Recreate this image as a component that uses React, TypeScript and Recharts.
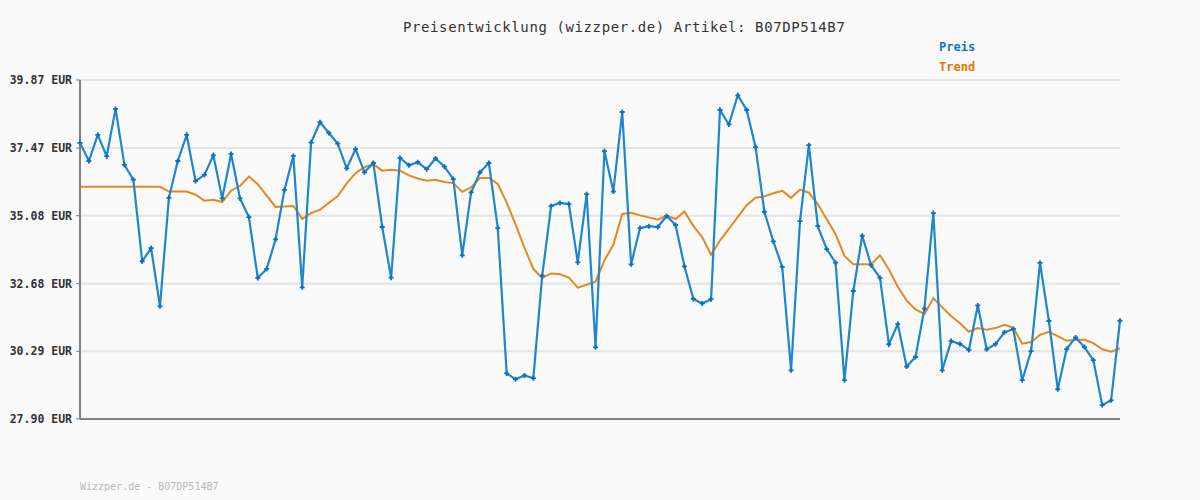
import { CartesianGrid, Line, LineChart, XAxis, YAxis } from "recharts";

const TITLE = "Preisentwicklung (wizzper.de) Artikel: B07DP514B7";
const FOOTER = "Wizzper.de - B07DP514B7";

const Y_TICKS = [27.9, 30.29, 32.68, 35.08, 37.47, 39.87];

// Preis pro Messpunkt (EUR)
const preis = [
  37.65, 37.01, 37.93, 37.18, 38.85, 36.87, 36.35, 33.47, 33.93, 31.88,
  35.71, 37.01, 37.93, 36.3, 36.52, 37.21, 35.69, 37.26, 35.69, 35.03,
  32.88, 33.2, 34.24, 35.99, 37.19, 32.55, 37.66, 38.38, 38.0, 37.62,
  36.75, 37.43, 36.61, 36.94, 34.68, 32.89, 37.12, 36.86, 36.97, 36.72,
  37.1, 36.81, 36.37, 33.68, 35.9, 36.61, 36.94, 34.64, 29.51, 29.3,
  29.44, 29.34, 32.96, 35.42, 35.53, 35.49, 33.43, 35.84, 30.43, 37.36,
  35.93, 38.74, 33.36, 34.64, 34.71, 34.68, 35.07, 34.75, 33.29, 32.14,
  31.98, 32.13, 38.81, 38.3, 39.33, 38.81, 37.5, 35.21, 34.17, 33.27,
  29.62, 34.89, 37.57, 34.71, 33.9, 33.42, 29.27, 32.42, 34.37, 33.33,
  32.88, 30.54, 31.25, 29.75, 30.09, 31.8, 35.17, 29.62, 30.65, 30.55,
  30.34, 31.91, 30.36, 30.55, 30.96, 31.08, 29.27, 30.3, 33.41, 31.36,
  28.95, 30.37, 30.78, 30.44, 29.98, 28.39, 28.56, 31.37,
];

// Trendlinie (EUR)
const trend = [
  36.1, 36.1, 36.1, 36.1, 36.1, 36.1, 36.1, 36.1, 36.1, 36.1,
  35.93, 35.93, 35.93, 35.82, 35.61, 35.64, 35.56, 35.96, 36.13, 36.46,
  36.19, 35.79, 35.39, 35.4, 35.42, 34.97, 35.17, 35.29, 35.53, 35.77,
  36.22, 36.58, 36.79, 36.9, 36.67, 36.7, 36.67, 36.5, 36.39, 36.31,
  36.35, 36.27, 36.23, 35.92, 36.08, 36.41, 36.41, 36.2, 35.54, 34.77,
  33.95, 33.2, 32.88, 33.04, 33.01, 32.89, 32.54, 32.64, 32.75, 33.5,
  34.05, 35.14, 35.18, 35.09, 35.02, 34.94, 35.08, 34.96, 35.23, 34.72,
  34.32, 33.7, 34.2, 34.61, 35.04, 35.45, 35.71, 35.76, 35.87, 35.96,
  35.71, 36.0, 35.89, 35.49, 34.95, 34.43, 33.66, 33.36, 33.36, 33.36,
  33.68, 33.18, 32.57, 32.08, 31.77, 31.6, 32.17, 31.84, 31.54, 31.28,
  30.98, 31.11, 31.05, 31.11, 31.23, 31.12, 30.56, 30.62, 30.87, 30.98,
  30.83, 30.66, 30.7, 30.7, 30.58, 30.36, 30.28, 30.4,
];

const BLUE = "#1f86cc";
const BLUE_DOT = "#0b72c2";
const ORANGE = "#e3891f";
const MONO = "'DejaVu Sans Mono', 'Liberation Mono', monospace";

const data = preis.map((p, i) => ({ idx: i + 1, preis: p, trend: trend[i] }));

const PlusDot = (props: { cx?: number; cy?: number }) => {
  const { cx, cy } = props;
  if (cx == null || cy == null) return null;
  return (
    <path
      d={`M${cx - 2.5},${cy}L${cx + 2.5},${cy}M${cx},${cy - 2.5}L${cx},${cy + 2.5}`}
      stroke={BLUE_DOT}
      strokeWidth={1.8}
    />
  );
};

export default function App() {
  return (
    <div
      style={{
        position: "fixed",
        left: 0,
        top: 0,
        width: 1200,
        height: 500,
        background: "#fafafa",
        fontFamily: MONO,
      }}
    >
      <div
        style={{
          position: "absolute",
          left: 403,
          top: 19,
          fontSize: 14,
          letterSpacing: 0.6,
          color: "#333",
          whiteSpace: "nowrap",
        }}
      >
        {TITLE}
      </div>
      <div
        style={{
          position: "absolute",
          left: 939,
          top: 40,
          fontSize: 12,
          fontWeight: "bold",
          color: "#0b78c8",
        }}
      >
        Preis
      </div>
      <div
        style={{
          position: "absolute",
          left: 939,
          top: 60,
          fontSize: 12,
          fontWeight: "bold",
          color: "#e07b00",
        }}
      >
        Trend
      </div>
      <div
        style={{
          position: "absolute",
          left: 80,
          top: 481,
          fontSize: 10,
          color: "#b8b8b8",
          whiteSpace: "nowrap",
        }}
      >
        {FOOTER}
      </div>
      <LineChart
        width={1200}
        height={500}
        data={data}
        margin={{ top: 80, right: 80, bottom: 80, left: 0 }}
        style={{ position: "absolute", left: 0, top: 0 }}
      >
        <CartesianGrid vertical={false} stroke="#e4e4e4" strokeWidth={2} />
        <XAxis
          dataKey="idx"
          tick={false}
          tickLine={false}
          height={1}
          axisLine={{ stroke: "#808080", strokeWidth: 2 }}
        />
        <YAxis
          type="number"
          domain={[27.9, 39.87]}
          ticks={Y_TICKS}
          width={80}
          tickSize={4}
          tickMargin={4}
          interval={0}
          tickFormatter={(v: number) => `${v.toFixed(2)} EUR`}
          tick={{
            fill: "#333",
            fontSize: 11.5,
            fontWeight: "bold",
            fontFamily: MONO,
          }}
          tickLine={{ stroke: "#808080" }}
          axisLine={{ stroke: "#808080", strokeWidth: 2 }}
        />
        <Line
          type="linear"
          dataKey="trend"
          stroke={ORANGE}
          strokeWidth={2}
          dot={false}
          activeDot={false}
          isAnimationActive={false}
        />
        <Line
          type="linear"
          dataKey="preis"
          stroke={BLUE}
          strokeWidth={2.2}
          dot={<PlusDot />}
          activeDot={false}
          isAnimationActive={false}
        />
      </LineChart>
    </div>
  );
}
